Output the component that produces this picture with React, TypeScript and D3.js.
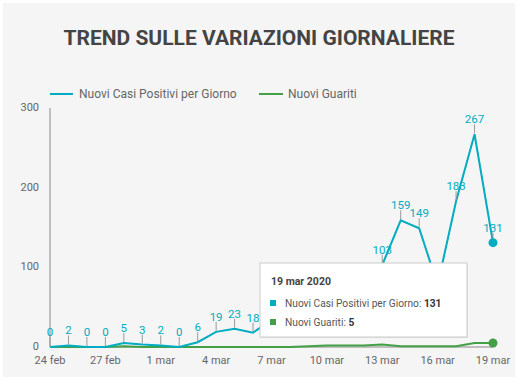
import React from "react";
import * as d3 from "d3";

const dates = [
  "2020-02-24","2020-02-25","2020-02-26","2020-02-27","2020-02-28","2020-02-29",
  "2020-03-01","2020-03-02","2020-03-03","2020-03-04","2020-03-05","2020-03-06",
  "2020-03-07","2020-03-08","2020-03-09","2020-03-10","2020-03-11","2020-03-12",
  "2020-03-13","2020-03-14","2020-03-15","2020-03-16","2020-03-17","2020-03-18","2020-03-19",
];
const nuoviPositivi = [0,2,0,0,5,3,2,0,6,19,23,18,34,26,42,50,61,72,103,159,149,78,183,267,131];
const nuoviGuariti = [0,0,0,0,1,0,0,0,0,0,0,0,0,0,1,2,2,2,3,1,1,1,1,5,5];
const yTicks = [0,100,200,300];
const xTickDates = ["2020-02-24","2020-02-27","2020-03-01","2020-03-04","2020-03-07","2020-03-10","2020-03-13","2020-03-16","2020-03-19"];
const seriesNames = ["Nuovi Casi Positivi per Giorno", "Nuovi Guariti"];
const colors = ["#00acc1", "#43a047"];
const tooltipTitle = "19 mar 2020";

const parse = d3.timeParse("%Y-%m-%d");
const months = ["gen","feb","mar","apr","mag","giu","lug","ago","set","ott","nov","dic"];
const fmt = (d: Date) => `${d.getDate()} ${months[d.getMonth()]}`;

export default function App() {
  const W = 518, H = 380;
  const m = { left: 50, right: 25, top: 108, bottom: 33 };
  const pd = dates.map((s) => parse(s) as Date);
  const x = d3.scaleTime().domain([pd[0], pd[pd.length - 1]]).range([m.left, W - m.right]);
  const y = d3.scaleLinear().domain([0, 300]).range([H - m.bottom, m.top]);
  const line = d3.line<number>().x((_, i) => x(pd[i])).y((v) => y(v));
  const font = "Roboto, 'Noto Sans', sans-serif";
  const last = pd.length - 1;
  const tx = 260, ty = 263, tw = 207, th = 74;
  const hiddenByTooltip = (px: number, py: number) =>
    px > tx - 6 && px < tx + tw + 6 && py - 20 > ty - 2 && py - 20 < ty + th;

  return (
    <svg width={W} height={H} style={{ position: "fixed", left: 0, top: 0 }} fontFamily={font}>
      <rect x={0} y={0} width={W} height={H} fill="#ffffff" />
      <rect x={3} y={3} width={W - 6} height={H - 6} fill="#f5f5f5" />
      <text x={W / 2} y={45} textAnchor="middle" fontSize={21} fontWeight="bold" fill="#444">
        TREND SULLE VARIAZIONI GIORNALIERE
      </text>
      {/* legend */}
      <line x1={50} x2={73} y1={94} y2={94} stroke={colors[0]} strokeWidth={2} />
      <text x={79} y={98} fontSize={12} fill="#666">{seriesNames[0]}</text>
      <line x1={259} x2={283} y1={94} y2={94} stroke={colors[1]} strokeWidth={2} />
      <text x={288} y={98} fontSize={12} fill="#666">{seriesNames[1]}</text>
      {/* axes */}
      <line x1={m.left} x2={m.left} y1={y(300)} y2={y(0)} stroke="#888" strokeWidth={1} />
      <line x1={m.left} x2={W - m.right} y1={y(0)} y2={y(0)} stroke="#888" strokeWidth={1} />
      {yTicks.map((t) => (
        <text key={t} x={39} y={y(t) + 3} textAnchor="end" fontSize={11} fill="#666">{t}</text>
      ))}
      {xTickDates.map((s) => {
        const d = parse(s) as Date;
        return (
          <text key={s} x={x(d)} y={364} textAnchor="middle" fontSize={11} fill="#666">{fmt(d)}</text>
        );
      })}
      {/* series */}
      <path d={line(nuoviGuariti) || ""} fill="none" stroke={colors[1]} strokeWidth={2} />
      <path d={line(nuoviPositivi) || ""} fill="none" stroke={colors[0]} strokeWidth={2} />
      {nuoviPositivi.map((v, i) =>
        hiddenByTooltip(x(pd[i]), y(v)) ? null : (
          <g key={i}>
            <line x1={x(pd[i])} x2={x(pd[i])} y1={y(v) - 1} y2={y(v) - 10} stroke="#999" strokeWidth={1} />
            <text x={x(pd[i])} y={y(v) - 11} textAnchor="middle" fontSize={11.5} fill={colors[0]}>{v}</text>
          </g>
        )
      )}
      <circle cx={x(pd[last])} cy={y(nuoviPositivi[last])} r={4.5} fill={colors[0]} />
      <circle cx={x(pd[last])} cy={y(nuoviGuariti[last])} r={4.5} fill={colors[1]} />
      {/* tooltip */}
      <rect x={tx + 1} y={ty + 1} width={tw} height={th} fill="rgba(0,0,0,0.08)" />
      <rect x={tx} y={ty} width={tw} height={th} fill="#fff" stroke="#ccc" strokeWidth={1} />
      <text x={tx + 11} y={ty + 22} fontSize={10.5} fontWeight="bold" fill="#444">{tooltipTitle}</text>
      <rect x={tx + 10} y={ty + 37} width={6} height={6} fill={colors[0]} />
      <text x={tx + 25} y={ty + 44} fontSize={10.2} fill="#555">
        {seriesNames[0]}: <tspan fontWeight="bold" fill="#333">{nuoviPositivi[last]}</tspan>
      </text>
      <rect x={tx + 10} y={ty + 56} width={6} height={6} fill={colors[1]} />
      <text x={tx + 25} y={ty + 63} fontSize={10.2} fill="#555">
        {seriesNames[1]}: <tspan fontWeight="bold" fill="#333">{nuoviGuariti[last]}</tspan>
      </text>
    </svg>
  );
}
